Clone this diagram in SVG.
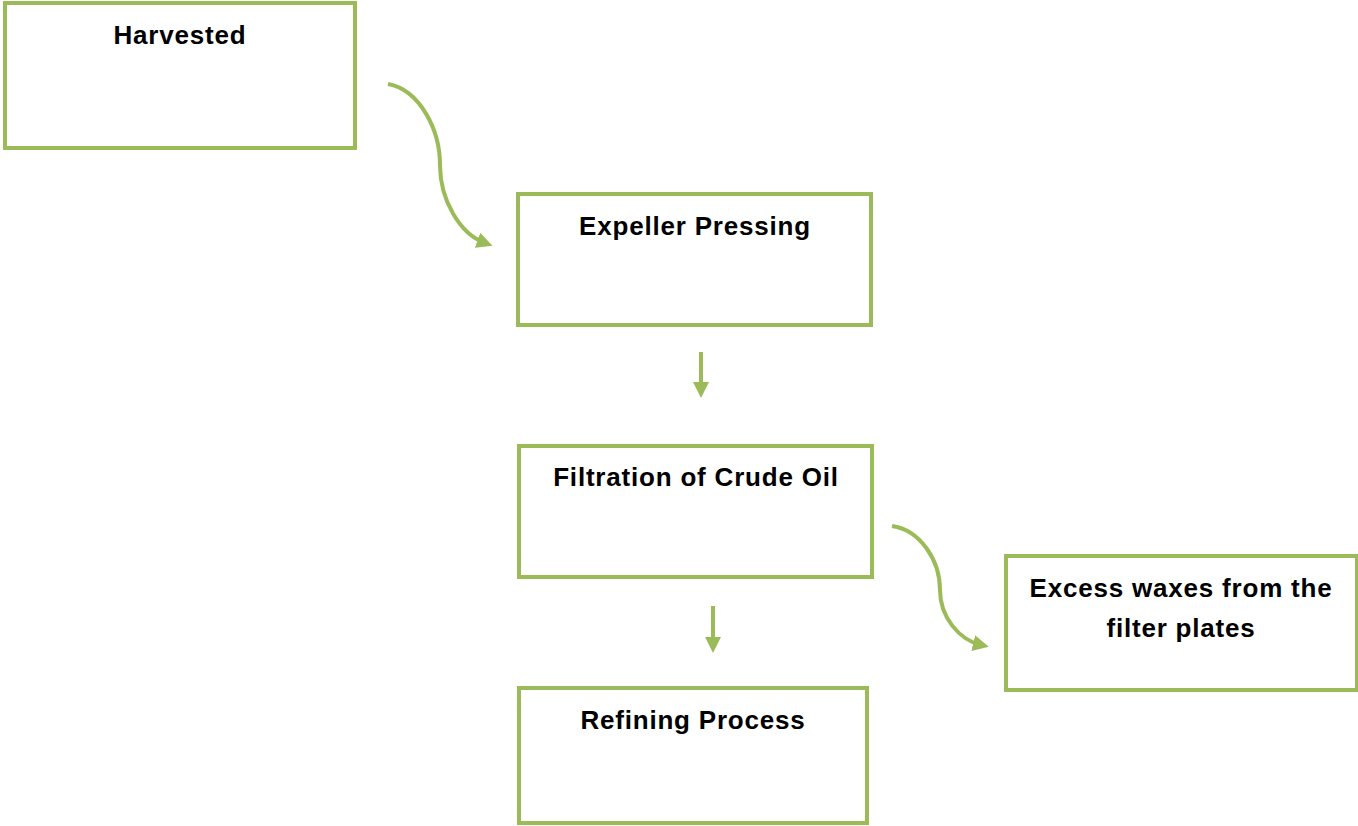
<svg xmlns="http://www.w3.org/2000/svg" width="1358" height="826" viewBox="0 0 1358 826">
<style>
.box{fill:#fff;stroke:#9BBB59;stroke-width:4;}
.lbl{font-family:"Liberation Sans",Arial,sans-serif;font-weight:bold;font-size:26px;letter-spacing:0.8px;fill:#000;text-anchor:middle;}
.con{fill:none;stroke:#9BBB59;stroke-width:4;}
</style>
<defs>
<marker id="ah" markerWidth="4" markerHeight="4" refX="2" refY="2" orient="auto" markerUnits="strokeWidth">
<path d="M0,0 L4,2 L0,4 z" fill="#9BBB59"/>
</marker>
</defs>
<rect width="1358" height="826" fill="#fff"/>
<g id="connectors">
<path class="con" d="M388,84 C420,90 440,130 440,165 C440,200 460,234 485,243" marker-end="url(#ah)"/>
<path class="con" d="M701,352 L701,390" marker-end="url(#ah)"/>
<path class="con" d="M713,606 L713,645" marker-end="url(#ah)"/>
<path class="con" d="M892,526 C920,530 940,560 940,590 C940,618 960,640 981,645" marker-end="url(#ah)"/>
</g>
<g id="harvested"><rect class="box" x="5" y="3" width="350" height="145"/><text class="lbl" x="180" y="44">Harvested</text></g>
<g id="expeller"><rect class="box" x="518" y="194" width="353" height="131"/><text class="lbl" x="695" y="235">Expeller Pressing</text></g>
<g id="filtration"><rect class="box" x="519" y="446" width="353" height="131"/><text class="lbl" x="696" y="486">Filtration of Crude Oil</text></g>
<g id="waxes"><rect class="box" x="1006" y="556" width="351" height="134"/><text class="lbl" x="1181" y="597">Excess waxes from the</text><text class="lbl" x="1181" y="637">filter plates</text></g>
<g id="refining"><rect class="box" x="519" y="688" width="348" height="135"/><text class="lbl" x="693" y="729">Refining Process</text></g>
</svg>
